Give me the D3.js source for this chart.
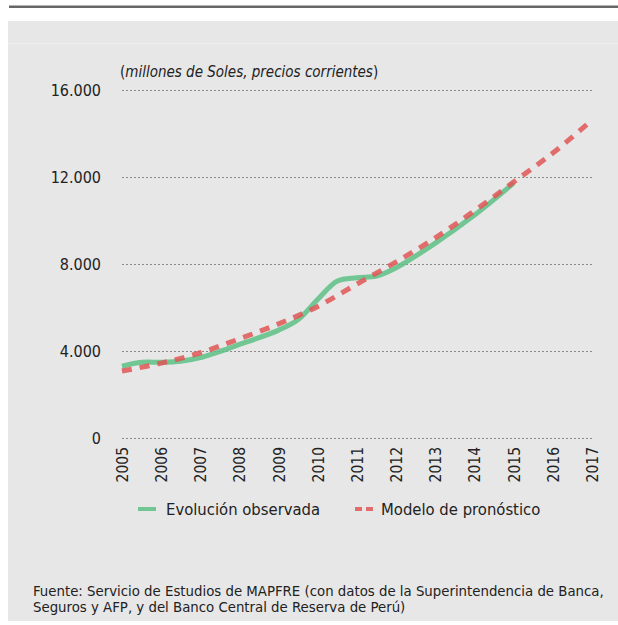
<!DOCTYPE html>
<html>
<head>
<meta charset="utf-8">
<script src="https://cdn.jsdelivr.net/npm/d3@7"></script>
<style>
  html, body { margin: 0; padding: 0; background: #ffffff; }
  svg { display: block; }
</style>
</head>
<body>
<svg id="chart" width="618" height="625"></svg>
<script>
// Primas de seguros, Perú: evolución observada y modelo de pronóstico
const years = [2005, 2006, 2007, 2008, 2009, 2010, 2011, 2012, 2013, 2014, 2015, 2016, 2017];
// observed series is semi-annual around the 2010 jump
const observedYears = [2005, 2005.5, 2006, 2006.5, 2007, 2008, 2009, 2009.5, 2010, 2010.5, 2011, 2011.5, 2012, 2013, 2014, 2015];
const observed = [3300, 3480, 3480, 3530, 3700, 4300, 4960, 5450, 6380, 7220, 7370, 7450, 7830, 8960, 10250, 11720];
const forecast = [3080, 3440, 3920, 4560, 5250, 6050, 7080, 8100, 9200, 10450, 11770, 13100, 14620];
const yTicks = [0, 4000, 8000, 12000, 16000];
const yTickLabels = ["0", "4.000", "8.000", "12.000", "16.000"];
const subtitle = "millones de Soles, precios corrientes";
const legendLabels = ["Evolución observada", "Modelo de pronóstico"];
const sourceLines = [
  "Fuente: Servicio de Estudios de MAPFRE (con datos de la Superintendencia de Banca,",
  "Seguros y AFP, y del Banco Central de Reserva de Perú)"
];

const FONT = "'DejaVu Sans Condensed', 'DejaVu Sans', sans-serif";
const INK = "#222";
const svg = d3.select("#chart");

// frame: top rule and grey panel
svg.append("rect").attr("x", 9).attr("y", 5.5).attr("width", 609).attr("height", 2.5).attr("fill", "#676767");
svg.append("rect").attr("x", 8).attr("y", 21).attr("width", 610).attr("height", 600).attr("fill", "#e7e7e7");
svg.append("line").attr("x1", 8).attr("x2", 618).attr("y1", 43.5).attr("y2", 43.5)
  .attr("stroke", "#efefef").attr("stroke-width", 1);

const x = d3.scaleLinear().domain([2005, 2017]).range([122, 592]);
const y = d3.scaleLinear().domain([0, 16000]).range([438, 90]);

// horizontal dotted grid
svg.append("g").selectAll("line").data(yTicks).join("line")
  .attr("x1", 122).attr("x2", 592)
  .attr("y1", d => Math.round(y(d)) + 0.5).attr("y2", d => Math.round(y(d)) + 0.5)
  .attr("stroke", "#8a8a8a").attr("stroke-width", 1).attr("stroke-dasharray", "2,2");

// y tick labels
svg.append("g").selectAll("text").data(yTicks).join("text")
  .attr("x", 101).attr("y", d => y(d)).attr("dy", "0.35em")
  .attr("text-anchor", "end").attr("font-family", FONT).attr("font-size", 16).attr("fill", INK)
  .text((d, i) => yTickLabels[i]);

// x axis labels, rotated
const xAxis = d3.axisBottom(x).tickValues(years).tickFormat(d3.format("d")).tickSize(0);
const gx = svg.append("g").attr("transform", "translate(0,438)").call(xAxis);
gx.select(".domain").remove();
gx.selectAll("text")
  .attr("font-family", FONT).attr("font-size", 15.5).attr("fill", INK)
  .attr("text-anchor", "end")
  .attr("transform", "rotate(-90)")
  .attr("x", -9).attr("y", 0).attr("dy", "0.35em");

// subtitle
const st = svg.append("text").attr("x", 120).attr("y", 77)
  .attr("font-family", FONT).attr("font-size", 15).attr("fill", INK);
st.append("tspan").text("(");
st.append("tspan").attr("font-style", "italic").text(subtitle);
st.append("tspan").text(")");

// series
const obsLine = d3.line().x((d, i) => x(observedYears[i])).y(d => y(d)).curve(d3.curveCatmullRom.alpha(0.5));
const fcLine = d3.line().x((d, i) => x(years[i])).y(d => y(d)).curve(d3.curveCatmullRom.alpha(0.5));

svg.append("path").datum(observed).attr("d", obsLine)
  .attr("fill", "none").attr("stroke", "#5cc084").attr("stroke-opacity", 0.85)
  .attr("stroke-width", 5).attr("stroke-linecap", "butt");
svg.append("path").datum(forecast).attr("d", fcLine)
  .attr("fill", "none").attr("stroke", "#e05555").attr("stroke-opacity", 0.85)
  .attr("stroke-width", 5).attr("stroke-dasharray", "10,8");

// legend
const lg = svg.append("g");
lg.append("line").attr("x1", 138).attr("x2", 156).attr("y1", 509).attr("y2", 509)
  .attr("stroke", "#5cc084").attr("stroke-opacity", 0.85).attr("stroke-width", 4);
lg.append("text").attr("x", 166).attr("y", 509).attr("dy", "0.35em")
  .attr("font-family", FONT).attr("font-size", 16.5).attr("fill", INK).text(legendLabels[0]);
lg.append("line").attr("x1", 355).attr("x2", 373).attr("y1", 509).attr("y2", 509)
  .attr("stroke", "#e05555").attr("stroke-opacity", 0.85).attr("stroke-width", 4).attr("stroke-dasharray", "7,4");
lg.append("text").attr("x", 381).attr("y", 509).attr("dy", "0.35em")
  .attr("font-family", FONT).attr("font-size", 16.5).attr("fill", INK).text(legendLabels[1]);

// source note
svg.append("g").selectAll("text").data(sourceLines).join("text")
  .attr("x", 33).attr("y", (d, i) => 596 + i * 16)
  .attr("font-family", FONT).attr("font-size", 14.8).attr("fill", INK)
  .text(d => d);
</script>
</body>
</html>
